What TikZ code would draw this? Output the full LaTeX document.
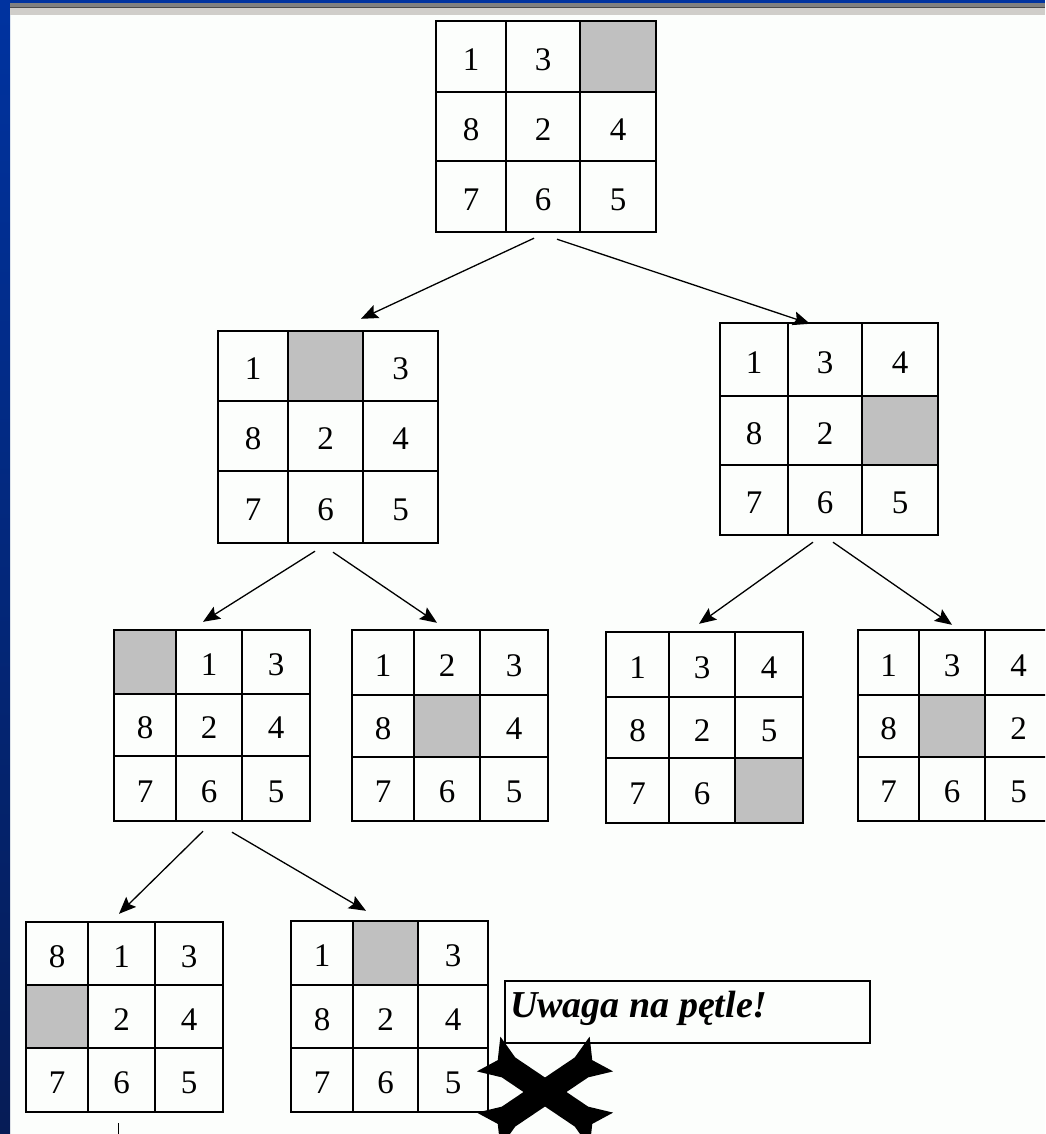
\documentclass[tikz,border=0pt]{standalone}
\usepackage{fontspec}
\setmainfont{Liberation Serif}
\usetikzlibrary{arrows.meta,fit,calc}
\pgfdeclarelayer{back}\pgfdeclarelayer{bg}\pgfsetlayers{back,bg,main}
\definecolor{cellgray}{RGB}{192,192,192}
\definecolor{pagebg}{RGB}{252,254,252}
\definecolor{frameblue}{RGB}{0,51,160}
\definecolor{framedark}{RGB}{6,28,86}
\definecolor{bargray}{RGB}{128,128,128}
\definecolor{barlight}{RGB}{208,206,202}
\tikzset{
 gridline/.style={line width=1.8pt, line cap=rect},
 dg/.style={inner sep=0pt, font=\fontsize{33}{33}\selectfont, yshift=-3pt},
 arr/.style={line width=1.3pt, -{Stealth[length=17pt,width=14pt,inset=3pt]}},
}
\newcommand\Puz[9]{%
 \coordinate (#1-X0) at (#2,0); \coordinate (#1-X1) at (#3,0);
 \coordinate (#1-X2) at (#4,0); \coordinate (#1-X3) at (#5,0);
 \coordinate (#1-Y0) at (0,#6); \coordinate (#1-Y1) at (0,#7);
 \coordinate (#1-Y2) at (0,#8); \coordinate (#1-Y3) at (0,#9);
 \coordinate (#1-c1) at ({(#2+#3)/2},0); \coordinate (#1-c2) at ({(#3+#4)/2},0);
 \coordinate (#1-c3) at ({(#4+#5)/2},0);
 \coordinate (#1-r1) at (0,{(#6+#7)/2}); \coordinate (#1-r2) at (0,{(#7+#8)/2});
 \coordinate (#1-r3) at (0,{(#8+#9)/2});
 \coordinate (#1-nw) at (#2,#6); \coordinate (#1-se) at (#5,#9);
 \node[fit=(#1-nw)(#1-se), inner sep=0pt] (#1) {};
 \draw[gridline] (#2,#6) rectangle (#5,#9);
 \draw[gridline] (#3,#6) -- (#3,#9) (#4,#6) -- (#4,#9) (#2,#7) -- (#5,#7) (#2,#8) -- (#5,#8);
}
\newcommand\Row[5]{%
 \node[dg] (#1-#2a) at (#1-c1 |- #1-r#2) {#3};
 \node[dg] (#1-#2b) at (#1-c2 |- #1-r#2) {#4};
 \node[dg] (#1-#2c) at (#1-c3 |- #1-r#2) {#5};
}
\newcommand\Gray[5]{%
 \begin{pgfonlayer}{bg}\fill[cellgray] (#1-#2 |- #1-#4) rectangle (#1-#3 |- #1-#5);\end{pgfonlayer}}
\begin{document}
\begin{tikzpicture}[x=1pt,y=-1pt]
\useasboundingbox (0,0) rectangle (1045,1134);
\begin{pgfonlayer}{back}\fill[pagebg] (0,0) rectangle (1045,1134);\end{pgfonlayer}
\begin{scope}
\clip (0,0) rectangle (1045,1134);
% puzzles
\Puz{root}{436}{506}{580}{656}{21}{92}{161}{232}
\Gray{root}{X2}{X3}{Y0}{Y1}
\Row{root}{1}{1}{3}{}\Row{root}{2}{8}{2}{4}\Row{root}{3}{7}{6}{5}

\Puz{lA}{218}{288}{363}{438}{331}{401}{471}{543}
\Gray{lA}{X1}{X2}{Y0}{Y1}
\Row{lA}{1}{1}{}{3}\Row{lA}{2}{8}{2}{4}\Row{lA}{3}{7}{6}{5}

\Puz{lB}{720}{788}{862}{938}{323}{396}{465}{535}
\Gray{lB}{X2}{X3}{Y1}{Y2}
\Row{lB}{1}{1}{3}{4}\Row{lB}{2}{8}{2}{}\Row{lB}{3}{7}{6}{5}

\Puz{pA}{114}{176}{242}{310}{630}{694}{756}{821}
\Gray{pA}{X0}{X1}{Y0}{Y1}
\Row{pA}{1}{}{1}{3}\Row{pA}{2}{8}{2}{4}\Row{pA}{3}{7}{6}{5}

\Puz{pB}{352}{414}{480}{548}{630}{695}{757}{821}
\Gray{pB}{X1}{X2}{Y1}{Y2}
\Row{pB}{1}{1}{2}{3}\Row{pB}{2}{8}{}{4}\Row{pB}{3}{7}{6}{5}

\Puz{pC}{606}{669}{735}{803}{632}{697}{758}{823}
\Gray{pC}{X2}{X3}{Y2}{Y3}
\Row{pC}{1}{1}{3}{4}\Row{pC}{2}{8}{2}{5}\Row{pC}{3}{7}{6}{}

\Puz{pD}{858}{919}{985}{1052}{630}{695}{757}{821}
\Gray{pD}{X1}{X2}{Y1}{Y2}
\Row{pD}{1}{1}{3}{4}\Row{pD}{2}{8}{}{2}\Row{pD}{3}{7}{6}{5}

\Puz{pE}{26}{88}{155}{223}{922}{985}{1048}{1112}
\Gray{pE}{X0}{X1}{Y1}{Y2}
\Row{pE}{1}{8}{1}{3}\Row{pE}{2}{}{2}{4}\Row{pE}{3}{7}{6}{5}

\Puz{pF}{291}{353}{418}{488}{921}{985}{1048}{1112}
\Gray{pF}{X1}{X2}{Y0}{Y1}
\Row{pF}{1}{1}{}{3}\Row{pF}{2}{8}{2}{4}\Row{pF}{3}{7}{6}{5}

% connectors
\draw[arr] ([shift={(-12,6)}]root.south) -- ([shift={(33,-12)}]lA.north);
\draw[arr] ([shift={(11,7)}]root.south) -- ([shift={(-19,1)}]lB.north);
\draw[arr] ([shift={(-13,8)}]lA.south) -- ([shift={(-9,-8)}]pA.north);
\draw[arr] ([shift={(5,9)}]lA.south) -- ([shift={(-13,-7)}]pB.north);
\draw[arr] ([shift={(-16,7)}]lB.south) -- ([shift={(-5.5,-8)}]pC.north);
\draw[arr] ([shift={(4,7)}]lB.south) -- ([shift={(-3,-5)}]pD.north);
\draw[arr] ([shift={(-9,10)}]pA.south) -- ([shift={(-5.5,-8)}]pE.north);
\draw[arr] ([shift={(20,11)}]pA.south) -- ([shift={(-23.5,-10)}]pF.north);
\draw[line width=1.3pt] ([shift={(-6,11)}]pE.south) -- ([shift={(-6,40)}]pE.south);

% warning box
\node[draw, line width=1.5pt, anchor=north west, inner sep=0pt, minimum width=365pt, minimum height=62pt] (warn) at (504,980) {};
\node[anchor=base west, inner sep=0pt, font=\fontsize{38}{38}\selectfont\bfseries\itshape] (warnt) at ([shift={(6,37)}]warn.north west) {Uwaga na pętle!};

% cross mark
\foreach \a in {34,146,-146,-34}{
 \begin{scope}[shift={(545,1092)}, rotate=\a]
 \fill[black] (0,-12) -- (44,-12) -- (68,-21) -- (57,0) -- (68,21) -- (44,12) -- (0,12) -- cycle;
 \end{scope}}
\end{scope}
% window frame
\shade[top color=frameblue, bottom color=framedark] (0,0) rectangle (10,1134);
\fill[frameblue] (0,0) rectangle (1045,3);
\fill[bargray] (10,3) rectangle (1045,8);
\fill[black!70] (10,7) rectangle (1045,8);
\fill[barlight] (10,8) rectangle (1045,15.5);
\end{tikzpicture}
\end{document}
